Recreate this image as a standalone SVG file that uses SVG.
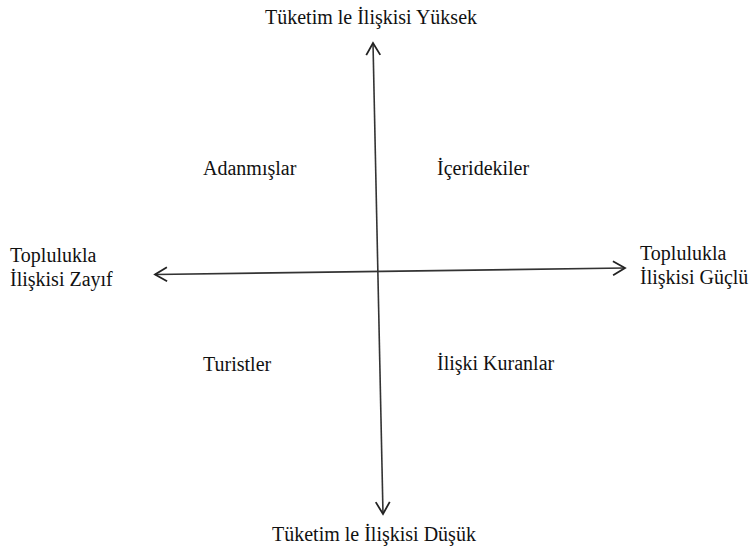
<svg xmlns="http://www.w3.org/2000/svg" width="752" height="549" viewBox="0 0 752 549">
  <style>
    text { font-family: "Liberation Serif", "Times New Roman", serif; font-size: 20px; fill: #111; }
    .axis { stroke: #333; stroke-width: 1.6; fill: none; }
  </style>
  <defs>
    <marker id="arr" markerUnits="userSpaceOnUse" markerWidth="20" markerHeight="20" viewBox="-14 -10 16 20" refX="0" refY="0" orient="auto-start-reverse">
      <path d="M -12 -7 L 0 0 L -12 7" fill="none" stroke="#222" stroke-width="1.8"/>
    </marker>
  </defs>
  <rect width="752" height="549" fill="#fff"/>
  <g id="connectors">
    <line class="axis" x1="383" y1="514" x2="373" y2="43" marker-start="url(#arr)" marker-end="url(#arr)"/>
    <line class="axis" x1="625" y1="268" x2="155" y2="274.5" marker-start="url(#arr)" marker-end="url(#arr)"/>
  </g>
  <g id="top-label"><text x="265" y="24">Tüketim le İlişkisi Yüksek</text></g>
  <g id="bottom-label"><text x="272" y="541">Tüketim le İlişkisi Düşük</text></g>
  <g id="left-label">
    <text x="10" y="262">Toplulukla</text>
    <text x="10" y="286">İlişkisi Zayıf</text>
  </g>
  <g id="right-label">
    <text x="640" y="260">Toplulukla</text>
    <text x="640" y="284">İlişkisi Güçlü</text>
  </g>
  <g id="adanmislar"><text x="203" y="175">Adanmışlar</text></g>
  <g id="iceridekiler"><text x="437" y="175">İçeridekiler</text></g>
  <g id="turistler"><text x="203" y="371">Turistler</text></g>
  <g id="iliski-kuranlar"><text x="437" y="370">İlişki Kuranlar</text></g>
</svg>
